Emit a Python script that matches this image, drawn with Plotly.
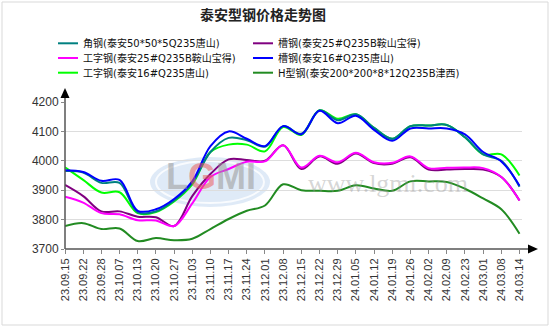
import plotly.graph_objects as go

# ---- data -------------------------------------------------------------
dates = ["23.09.15", "23.09.22", "23.09.28", "23.10.07", "23.10.13", "23.10.20",
         "23.10.27", "23.11.03", "23.11.10", "23.11.17", "23.11.24", "23.12.01",
         "23.12.08", "23.12.15", "23.12.22", "23.12.29", "24.01.05", "24.01.12",
         "24.01.19", "24.01.26", "24.02.02", "24.02.09", "24.02.23", "24.03.01",
         "24.03.08", "24.03.14"]

angle_tangshan = [3965, 3960, 3925, 3925, 3825, 3828, 3865, 3925, 4030, 4078, 4070, 4048, 4118,
                  4092, 4172, 4138, 4158, 4112, 4075, 4118, 4120, 4122, 4080, 4022, 4000, 3912]
channel25_anshan = [3918, 3880, 3828, 3828, 3810, 3808, 3778, 3880, 3955, 4005, 4003, 4000, 4053,
                    3972, 4015, 3990, 4025, 3992, 3990, 4012, 3970, 3970, 3972, 3970, 3945, 3865]
ibeam25_anshan = [3878, 3858, 3822, 3818, 3798, 3797, 3778, 3855, 3945, 3972, 3997, 3998, 4053,
                  3977, 4017, 3995, 4027, 3995, 3993, 4015, 3975, 3976, 3977, 3975, 3945, 3865]
channel16_tangshan = [3968, 3962, 3932, 3935, 3830, 3835, 3870, 3930, 4050, 4100, 4075, 4050, 4118,
                      4090, 4170, 4128, 4153, 4105, 4068, 4110, 4110, 4110, 4090, 4030, 3998, 3915]
ibeam16_tangshan = [3978, 3935, 3892, 3893, 3822, 3826, 3862, 3920, 4030, 4055, 4055, 4032, 4115,
                    4088, 4172, 4143, 4158, 4112, 4075, 4118, 4120, 4122, 4080, 4022, 4022, 3950]
hbeam_jinxi = [3778, 3788, 3768, 3770, 3727, 3737, 3730, 3735, 3768, 3802, 3830, 3848, 3920,
               3900, 3898, 3898, 3917, 3906, 3898, 3930, 3930, 3928, 3905, 3872, 3835, 3752]

names = {
    "angle": "角钢(泰安50*50*5Q235唐山)",
    "ch25": "槽钢(泰安25#Q235B鞍山宝得)",
    "ib25": "工字钢(泰安25#Q235B鞍山宝得)",
    "ch16": "槽钢(泰安16#Q235唐山)",
    "ib16": "工字钢(泰安16#Q235唐山)",
    "hb": "H型钢(泰安200*200*8*12Q235B津西)",
}
colors = {
    "angle": "#008080", "ch25": "#800080", "ib25": "#ff00ff",
    "ch16": "#0000ff", "ib16": "#00ff00", "hb": "#228b22",
}
values = {
    "angle": angle_tangshan, "ch25": channel25_anshan, "ib25": ibeam25_anshan,
    "ch16": channel16_tangshan, "ib16": ibeam16_tangshan, "hb": hbeam_jinxi,
}
draw_order = ["ib16", "angle", "ch16", "ch25", "ib25", "hb"]
legend_cols = [["angle", "ib25", "ib16"], ["ch25", "ch16", "hb"]]

# ---- geometry ---------------------------------------------------------
W, H = 553, 329
PL, PR, PT, PB = 65, 522, 102, 249   # plot area in pixels


def px(x):
    return (x - PL) / (PR - PL)


def py(y):
    return (PB - y) / (PB - PT)


CJK = "Noto Sans CJK SC"
LAT = "Liberation Sans"

fig = go.Figure()
xs = list(range(len(dates)))
for key in draw_order:
    fig.add_trace(go.Scatter(
        x=xs, y=values[key], name=names[key], mode="lines",
        line=dict(color=colors[key], width=2, shape="spline", smoothing=1.0),
        showlegend=False, hoverinfo="x+y+name",
    ))

shapes = []
annotations = []

# outer frame
shapes.append(dict(type="rect", xref="paper", yref="paper",
                   x0=px(2), x1=px(548), y0=py(2), y1=py(325),
                   line=dict(color="#d9d9d9", width=1), layer="below"))

# watermark logo
shapes.append(dict(type="circle", xref="paper", yref="paper",
                   x0=px(150), x1=px(270), y0=py(157), y1=py(207),
                   fillcolor="rgba(150,185,230,0.30)", line=dict(width=0), layer="below"))
shapes.append(dict(type="circle", xref="paper", yref="paper",
                   x0=px(156), x1=px(264), y0=py(161), y1=py(203),
                   fillcolor="rgba(0,0,0,0)",
                   line=dict(color="rgba(255,255,255,0.8)", width=2), layer="below"))
annotations.append(dict(
    xref="paper", yref="paper", x=px(211), y=py(176), showarrow=False,
    text=('<span style="color:rgba(150,150,150,0.55)">L</span>'
          '<span style="color:rgba(235,90,90,0.55)">G</span>'
          '<span style="color:rgba(150,150,150,0.55)">MI</span>'),
    font=dict(family=LAT, size=36, weight="bold"), xanchor="center", yanchor="middle"))
annotations.append(dict(
    xref="paper", yref="paper", x=px(388), y=py(183), showarrow=False,
    text="www.lgmi.com", font=dict(family="Liberation Serif", size=26,
                                   color="rgba(150,150,150,0.40)"),
    xanchor="center", yanchor="middle"))

# axis lines with arrow heads
axis_col = "#555555"
shapes.append(dict(type="line", xref="paper", yref="paper",
                   x0=px(65), x1=px(65), y0=py(249), y1=py(96),
                   line=dict(color=axis_col, width=1.5)))
shapes.append(dict(type="line", xref="paper", yref="paper",
                   x0=px(65), x1=px(530), y0=py(249), y1=py(249),
                   line=dict(color=axis_col, width=1.5)))
shapes.append(dict(type="path", xref="paper", yref="paper",
                   path=f"M {px(60.5)} {py(98)} L {px(69.5)} {py(98)} L {px(65)} {py(88)} Z",
                   fillcolor="#000000", line=dict(width=0)))
shapes.append(dict(type="path", xref="paper", yref="paper",
                   path=f"M {px(528)} {py(244.5)} L {px(528)} {py(253.5)} L {px(538)} {py(249)} Z",
                   fillcolor="#000000", line=dict(width=0)))

# legend: two columns of colour samples with their labels
LEG_FONT = 10
row_y = [43.3, 58, 72.7]
col_x = [(58, 78, 82), (253, 273, 277)]
for (lx0, lx1, tx), keys in zip(col_x, legend_cols):
    for yy, key in zip(row_y, keys):
        shapes.append(dict(type="line", xref="paper", yref="paper",
                           x0=px(lx0), x1=px(lx1), y0=py(yy), y1=py(yy),
                           line=dict(color=colors[key], width=2)))
        annotations.append(dict(xref="paper", yref="paper", x=px(tx), y=py(yy),
                                showarrow=False, text=names[key], borderpad=0,
                                xanchor="left", yanchor="middle", align="left",
                                font=dict(family="DejaVu Sans, " + CJK, size=LEG_FONT,
                                          color="#111111")))

fig.update_layout(
    width=W, height=H,
    margin=dict(l=PL, r=W - PR, t=PT, b=H - PB, pad=0),
    paper_bgcolor="white", plot_bgcolor="white",
    title=dict(text="<b>泰安型钢价格走势图</b>", x=263 / W, y=1 - 15 / H,
               xanchor="center", yanchor="middle",
               font=dict(family=CJK, size=14, color="#222222")),
    shapes=shapes, annotations=annotations,
    xaxis=dict(
        range=[0, (PR - PL) / 18.18], tickmode="array", tickvals=xs, ticktext=dates,
        tickangle=-90, showgrid=False, zeroline=False, showline=False,
        ticks="outside", ticklen=4, tickcolor="#888888",
        tickfont=dict(family=LAT, size=11, color="#333333"),
    ),
    yaxis=dict(
        range=[3700, 4200], tickvals=[3700, 3800, 3900, 4000, 4100, 4200],
        showgrid=True, gridcolor="#dddddd", gridwidth=1, zeroline=False, showline=False,
        ticks="outside", ticklen=3, tickcolor="#888888",
        tickfont=dict(family=LAT, size=12, color="#333333"),
    ),
    hovermode="x",
)

fig.write_html("out.html")
